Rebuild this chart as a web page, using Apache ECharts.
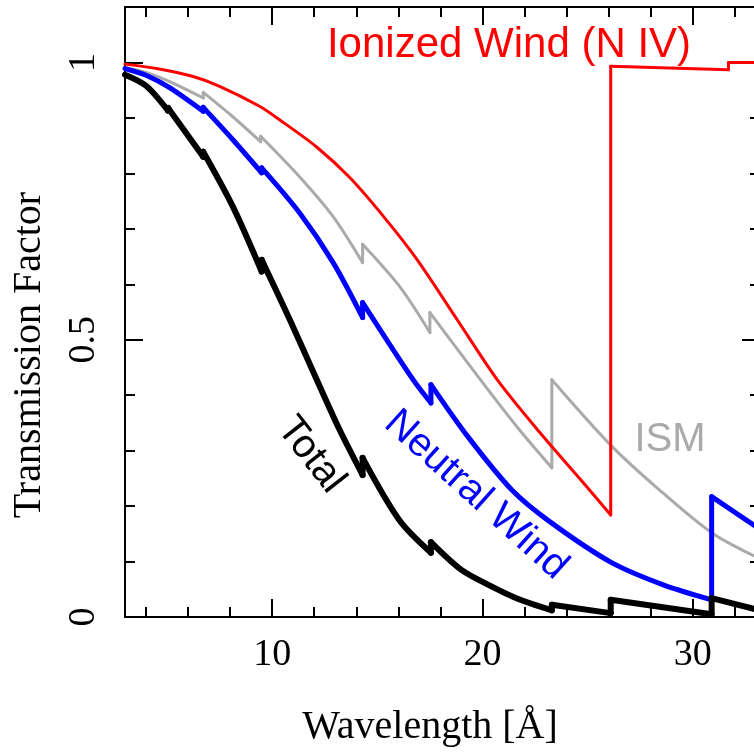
<!DOCTYPE html>
<html>
<head>
<meta charset="utf-8">
<script src="https://cdn.jsdelivr.net/npm/echarts@6/dist/echarts.min.js"></script>
<style>
  html, body { margin: 0; padding: 0; background: #fff; }
  #container { width: 754px; height: 752px; }
</style>
</head>
<body>
<div id="container"></div>
<script>
// wavelength [A] and transmission (repeated x = absorption edge jump)
const ismWave = [3, 4, 5.1, 6.72, 6.72, 8.1, 9.45, 9.45, 11.3, 12.9, 14.3, 14.3, 16.1, 17.5, 17.5, 19.9, 21.6, 23.3, 23.3, 26.1, 28.3, 30.9, 33.2];
const ismT    = [0.991, 0.982, 0.966, 0.936, 0.946, 0.903, 0.857, 0.867, 0.794, 0.722, 0.639, 0.672, 0.594, 0.513, 0.549, 0.428, 0.345, 0.269, 0.428, 0.31, 0.233, 0.152, 0.105];

const ionWave = [3, 4.5, 6.2, 7.5, 9.4, 10.3, 12.1, 13.7, 15.3, 16.9, 18.8, 20.7, 22.7, 25.0, 26.1, 26.1, 31.7, 31.7, 33.2];
const ionT    = [0.997, 0.989, 0.975, 0.957, 0.921, 0.898, 0.848, 0.792, 0.722, 0.644, 0.536, 0.428, 0.334, 0.233, 0.184, 0.993, 0.987, 1.0, 1.0];

const neuWave = [3, 4, 5.1, 6.72, 6.72, 8.1, 9.5, 9.5, 11.3, 12.9, 14.3, 14.3, 16.7, 17.55, 17.55, 19.25, 21.4, 23.2, 26.1, 28.6, 30.9, 30.9, 33.2];
const neuT    = [0.989, 0.977, 0.955, 0.912, 0.919, 0.862, 0.801, 0.81, 0.729, 0.639, 0.54, 0.567, 0.428, 0.386, 0.419, 0.328, 0.229, 0.172, 0.099, 0.058, 0.031, 0.217, 0.158];

const totWave = [3, 4, 5.05, 5.05, 6.72, 6.72, 8.13, 9.5, 9.5, 10.84, 12.12, 13.2, 14.3, 14.3, 16.06, 17.55, 17.55, 19.0, 20.5, 21.8, 23.3, 23.3, 26.1, 26.1, 30.9, 30.9, 33.2];
const totT    = [0.978, 0.958, 0.913, 0.918, 0.830, 0.839, 0.74, 0.623, 0.644, 0.536, 0.428, 0.338, 0.256, 0.287, 0.174, 0.116, 0.135, 0.085, 0.054, 0.031, 0.012, 0.022, 0.007, 0.031, 0.005, 0.034, 0.012];

const xMajor = [10, 20, 30];
const xMinor = [4, 6, 8, 12, 14, 16, 18, 22, 24, 26, 28, 32];
const yMajor = [0, 0.5, 1];
const yMinor = [0.1, 0.2, 0.3, 0.4, 0.6, 0.7, 0.8, 0.9];

const serif = 'Liberation Serif';
const sans = 'Liberation Sans';

// split a curve at its edges: smooth pieces between edges, straight vertical jumps at edges
function curveSeries(name, wave, t, color, width) {
    let out = [];
    let piece = [[wave[0], t[0]]];
    const line = { color: color, width: width, cap: 'round', join: 'round' };
    for (let i = 1; i < wave.length; i++) {
        if (wave[i] === wave[i - 1]) {
            out.push({ name: name, type: 'line', showSymbol: false, smooth: 0.3, data: piece, lineStyle: line });
            out.push({ name: name, type: 'line', showSymbol: false, data: [[wave[i - 1], t[i - 1]], [wave[i], t[i]]], lineStyle: line });
            piece = [];
        }
        piece.push([wave[i], t[i]]);
    }
    out.push({ name: name, type: 'line', showSymbol: false, smooth: 0.3, data: piece, lineStyle: line });
    return out;
}

function xAx(pos, ticks, len, labels, line) {
    return {
        type: 'value', position: pos, min: 3, max: 33.2,
        axisLine: { show: line, onZero: false, lineStyle: { color: '#000', width: 2 } },
        axisTick: { show: true, inside: true, length: len, customValues: ticks, lineStyle: { color: '#000', width: 2 } },
        axisLabel: labels ? { show: true, customValues: ticks, color: '#000', fontFamily: serif, fontSize: 38, margin: 19 } : { show: false },
        splitLine: { show: false }
    };
}
function yAx(pos, ticks, len, labels, line) {
    return {
        type: 'value', position: pos, min: 0, max: 1.1,
        axisLine: { show: line, onZero: false, lineStyle: { color: '#000', width: 2 } },
        axisTick: { show: true, inside: true, length: len, customValues: ticks, lineStyle: { color: '#000', width: 2 } },
        axisLabel: labels ? { show: true, customValues: ticks, rotate: 90, color: '#000', fontFamily: serif, fontSize: 38, margin: 22 } : { show: false },
        splitLine: { show: false }
    };
}

let mychart = echarts.init(document.getElementById('container'));
mychart.setOption({
    animation: false,
    backgroundColor: '#fff',
    grid: { left: 125, top: 7, width: 635, height: 610, outerBoundsMode: 'none', containLabel: false },
    xAxis: [
        xAx('bottom', xMajor, 18, true, true),
        xAx('bottom', xMinor, 10, false, false),
        xAx('top', xMajor, 18, false, true),
        xAx('top', xMinor, 10, false, false)
    ],
    yAxis: [
        yAx('left', yMajor, 18, true, true),
        yAx('left', yMinor, 10, false, false),
        yAx('right', yMajor, 18, false, true),
        yAx('right', yMinor, 10, false, false)
    ],
    graphic: {
        elements: [
            { type: 'text', x: 430, y: 727, style: { text: 'Wavelength [Å]', fontFamily: serif, fontSize: 40, fill: '#000', textAlign: 'center', textVerticalAlign: 'middle' } },
            { type: 'text', x: 29, y: 355, rotation: Math.PI / 2, style: { text: 'Transmission Factor', fontFamily: serif, fontSize: 40, fill: '#000', textAlign: 'center', textVerticalAlign: 'middle' } },
            { type: 'text', x: 509, y: 45, style: { text: 'Ionized Wind (N IV)', fontFamily: sans, fontSize: 42, fill: '#ff0000', textAlign: 'center', textVerticalAlign: 'middle' } },
            { type: 'text', x: 670, y: 440, style: { text: 'ISM', fontFamily: sans, fontSize: 40, fill: '#aaaaaa', textAlign: 'center', textVerticalAlign: 'middle' } },
            { type: 'text', x: 311, y: 455, rotation: -52 * Math.PI / 180, style: { text: 'Total', fontFamily: sans, fontSize: 40, fill: '#000', textAlign: 'center', textVerticalAlign: 'middle' } },
            { type: 'text', x: 476, y: 495, rotation: -42 * Math.PI / 180, style: { text: 'Neutral Wind', fontFamily: sans, fontSize: 40, fill: '#0000ff', textAlign: 'center', textVerticalAlign: 'middle' } }
        ]
    },
    series: [].concat(
        curveSeries('ISM', ismWave, ismT, '#aaaaaa', 3),
        curveSeries('Ionized Wind', ionWave, ionT, '#ff0000', 3),
        curveSeries('Neutral Wind', neuWave, neuT, '#0000ff', 5),
        curveSeries('Total', totWave, totT, '#000', 6)
    )
});
window.addEventListener('resize', () => { mychart.resize() });
</script>
</body>
</html>
